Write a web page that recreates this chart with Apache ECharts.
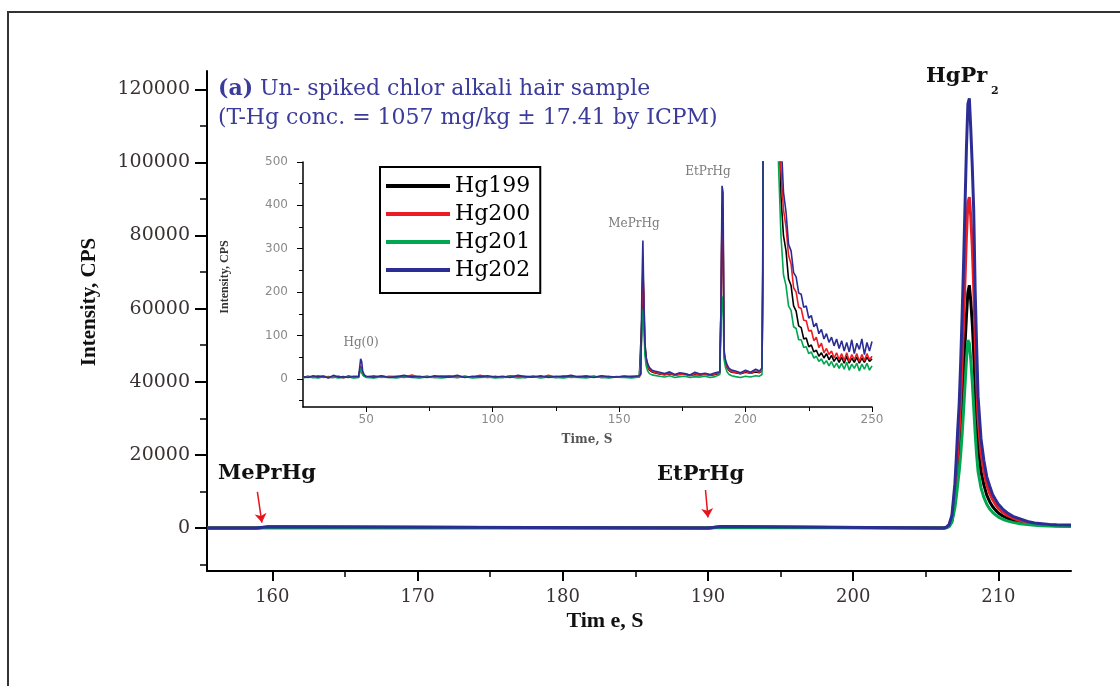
<!DOCTYPE html>
<html><head><meta charset="utf-8">
<script src="https://cdn.jsdelivr.net/npm/echarts@6/dist/echarts.min.js"></script>
<style>html,body{margin:0;padding:0;background:#fff}#c{width:1120px;height:686px}</style>
</head><body><div id="c"></div>
<script>
// ---------- Main chart data (time s, intensity CPS) ----------
const mainT = [155.5,158.9,159.0,159.7,159.8,190.0,190.1,190.9,191.0,206.2,
  206.4,206.6,206.8,207.0,207.1,207.2,207.3,207.4,207.5,207.6,
  207.7,207.8,207.9,208.0,208.1,208.2,208.3,208.4,208.5,208.6,
  208.8,209.0,209.2,209.4,209.6,209.8,210.0,210.3,210.6,211.0,
  211.5,212.0,212.5,213.0,213.5,214.0,215.0];
const mainHg199 = [0,0,250,250,0,0,300,300,0,0,
  100,500,2000,7000,11000,15500,20000,26000,33000,41000,
  50000,58000,64500,66400,62000,56000,48000,38000,29000,22500,
  15500,11800,9000,7200,5900,4900,4100,3300,2700,2100,
  1600,1250,1000,850,750,650,550];
const mainHg200 = [0,0,280,280,0,0,320,320,0,0,
  150,700,2800,9500,15000,21000,27000,35000,45000,56000,
  68000,80000,89000,90500,85000,77000,66000,52000,40000,30000,
  20500,15500,11800,9500,7800,6500,5400,4300,3500,2700,
  2000,1500,1200,1000,850,750,650];
const mainHg201 = [0,0,100,100,0,0,120,120,0,0,
  80,400,1600,5500,8500,12000,15500,20000,25500,32000,
  39000,46000,51400,50500,46000,40000,33000,26000,20000,15500,
  11000,8400,6500,5200,4300,3600,3000,2400,1950,1550,
  1200,950,780,650,560,500,420];
const mainHg202 = [0,0,350,350,0,0,400,400,0,0,
  200,900,3500,12000,19000,27000,34000,45000,58000,72000,
  88000,104000,116000,117500,109000,99000,87000,65000,50000,36000,
  24500,18500,14000,11500,9200,7800,6500,5200,4200,3200,
  2500,1800,1400,1200,1000,900,800];

// ---------- Inset data (time s, intensity CPS) ----------
const tIn = [25,27,29,31,33,35,37,39,41,43,45,47,
  47.8,48.2,48.6,49.2,
  50,53,56,59,62,65,68,71,74,77,80,83,86,89,92,95,98,101,104,107,110,113,116,119,122,125,128,131,134,137,140,143,146,149,152,155,158,
  158.6,159.0,159.4,159.8,160.2,160.7,161.3,162,163,164,
  166,168,170,172,174,176,178,180,182,184,186,188,
  189.8,190.3,190.7,191.1,191.5,192,192.7,193.5,194.5,
  196,198,200,202,204,
  205.5,206.5,206.9,207.3,
  212,213,
  214,215,216,217,218,219,220,221,222,223,224,225,226,227,228,229,230,231,232,233,234,235,236,237,238,239,240,241,242,243,244,245,246,247,248,249,250];
const inHg199 = [4,5,3,5,6,4,3,5,4,5,3,4,
  28,24,11,6,
  5,3,6,4,5,4,6,3,5,4,6,5,3,5,4,6,3,5,4,6,5,3,6,4,5,3,6,4,5,4,6,3,5,4,6,4,5,
  9,140,235,160,75,42,28,20,16,14,
  11,10,12,9,10,11,8,10,9,11,8,10,
  13,165,380,350,55,38,26,19,15,
  14,12,15,13,16,
  14,19,250,12000,
  2000,650,
  420,330,295,230,215,168,156,122,118,92,94,74,78,62,66,52,60,48,58,44,54,40,50,38,50,36,52,36,48,38,50,36,48,38,50,40,46];
const inHg200 = [3,6,4,7,3,5,4,6,2,7,4,6,
  30,26,12,7,
  4,7,3,6,5,3,9,4,6,3,5,7,4,6,3,8,4,5,3,7,4,6,5,3,8,4,6,3,5,7,4,6,3,5,4,6,5,
  10,150,248,200,83,45,30,22,17,15,
  12,9,13,8,11,10,7,12,9,10,8,11,
  14,170,400,380,60,40,28,20,16,
  15,12,17,13,18,
  15,20,300,16000,
  2500,750,
  480,390,350,285,265,210,200,165,162,135,134,110,112,88,96,72,82,60,70,56,64,48,60,44,58,42,60,40,56,44,58,40,56,42,58,44,52];
const inHg201 = [2,4,3,2,5,3,4,2,3,4,2,3,
  24,20,9,5,
  3,2,4,3,2,5,3,2,4,3,2,4,3,5,2,3,4,2,3,4,2,3,5,2,4,3,2,4,3,2,5,3,2,4,3,2,4,
  8,100,160,120,55,30,18,12,9,8,
  6,4,7,3,5,6,3,5,4,6,3,5,
  10,120,190,175,45,28,16,10,7,
  5,3,6,4,7,
  6,10,322,9000,
  1500,500,
  330,240,215,168,158,120,116,90,90,72,74,58,62,48,52,40,46,34,42,30,40,26,36,24,36,22,38,20,34,24,36,18,34,22,36,20,30];
const inHg202 = [5,3,7,4,6,2,8,4,5,3,6,5,
  46,40,18,9,
  6,4,7,3,5,8,4,6,3,7,5,4,8,3,6,5,7,4,6,3,8,5,4,7,3,6,5,8,4,6,3,7,5,4,6,5,7,
  12,207,319,180,83,50,35,26,20,18,
  15,12,16,10,14,12,9,15,11,13,10,14,
  16,175,445,430,67,45,32,24,20,
  18,14,20,15,22,
  18,25,380,20000,
  3000,900,
  560,430,385,310,295,245,235,198,195,165,168,140,146,120,128,104,114,92,104,84,96,76,92,70,88,64,84,62,90,58,82,68,92,56,84,64,86];

// ---------- Tick values ----------
const mainXTicks = [160,170,180,190,200,210];
const mainXMinor = [165,175,185,195,205];
const mainYTicks = [0,20000,40000,60000,80000,100000,120000];
const mainYMinor = [-10000,10000,30000,50000,70000,90000,110000];
const inXTicks = [50,100,150,200,250];
const inXMinor = [75,125,175,225];
const inYTicks = [0,100,200,300,400,500];
const inYMinor = [-50,50,150,250,350,450];

const names = ['Hg199','Hg200','Hg201','Hg202'];
const colors = ['#000000','#ed1c24','#00a650','#2b2d94'];
const mainVals = [mainHg199, mainHg200, mainHg201, mainHg202];
const inVals = [inHg199, inHg200, inHg201, inHg202];

function pairs(t, v){ return t.map((x,i)=>[x, v[i]]); }
const plain = v => String(v);

const serif = 'DejaVu Serif';

function axisBase(extra){
  return Object.assign({type:'value', splitLine:{show:false}, scale:false}, extra);
}

const xAxes = [
  axisBase({gridIndex:0, position:'bottom', min:155.5, max:215,
    axisLine:{show:true, onZero:false, lineStyle:{color:'#000', width:2}},
    axisTick:{show:true, customValues:mainXTicks, length:10, lineStyle:{color:'#000', width:2}},
    axisLabel:{show:true, customValues:mainXTicks, formatter:plain, margin:17, fontFamily:serif, fontSize:18, color:'#3a3232'}}),
  axisBase({gridIndex:0, position:'bottom', min:155.5, max:215,
    axisLine:{show:false, onZero:false},
    axisTick:{show:true, customValues:mainXMinor, length:6, lineStyle:{color:'#000', width:1.5}},
    axisLabel:{show:false}}),
  axisBase({gridIndex:1, position:'bottom', min:25, max:250,
    axisLine:{show:true, onZero:false, lineStyle:{color:'#000', width:1.5}},
    axisTick:{show:true, customValues:inXTicks, length:5, lineStyle:{color:'#000', width:1}},
    axisLabel:{show:true, customValues:inXTicks, formatter:plain, margin:7, fontFamily:'DejaVu Sans', fontSize:12, color:'#8a8a8a'}}),
  axisBase({gridIndex:1, position:'bottom', min:25, max:250,
    axisLine:{show:false, onZero:false},
    axisTick:{show:true, customValues:inXMinor, length:4, lineStyle:{color:'#000', width:1}},
    axisLabel:{show:false}})
];
const yAxes = [
  axisBase({gridIndex:0, position:'left', min:-11750, max:125000,
    axisLine:{show:true, onZero:false, lineStyle:{color:'#000', width:2}},
    axisTick:{show:true, customValues:mainYTicks, length:12, lineStyle:{color:'#000', width:2}},
    axisLabel:{show:true, customValues:mainYTicks, formatter:plain, margin:17, fontFamily:serif, fontSize:19, color:'#3a3232'}}),
  axisBase({gridIndex:0, position:'left', min:-11750, max:125000,
    axisLine:{show:false, onZero:false},
    axisTick:{show:true, customValues:mainYMinor, length:7, lineStyle:{color:'#000', width:1.5}},
    axisLabel:{show:false}}),
  axisBase({gridIndex:1, position:'left', min:-65, max:500,
    axisLine:{show:true, onZero:false, lineStyle:{color:'#000', width:1.5}},
    axisTick:{show:true, customValues:inYTicks, length:6, lineStyle:{color:'#000', width:1}},
    axisLabel:{show:true, customValues:inYTicks, formatter:plain, margin:15, fontFamily:'DejaVu Sans', fontSize:12, color:'#8a8a8a'}}),
  axisBase({gridIndex:1, position:'left', min:-65, max:500,
    axisLine:{show:false, onZero:false},
    axisTick:{show:true, customValues:inYMinor, length:4, lineStyle:{color:'#000', width:1}},
    axisLabel:{show:false}})
];

const series = [];
names.forEach((n,i)=>{
  const s = {name:n, type:'line', xAxisIndex:0, yAxisIndex:0, data:pairs(mainT, mainVals[i]),
    showSymbol:false, symbol:'none', clip:true, z:2+i,
    lineStyle:{color:colors[i], width:3}, itemStyle:{color:colors[i]}};
  if (n === 'Hg202') {
    s.markLine = {silent:true, symbol:['none','arrow'], symbolSize:9, animation:false, z:10,
      lineStyle:{color:'#e8141c', width:1.5, type:'solid'}, itemStyle:{color:'#e8141c'}, label:{show:false},
      data:[[{coord:[158.97, 9900]},{coord:[159.28, 1500]}],
            [{coord:[189.83, 10400]},{coord:[190.0, 2900]}]]};
  }
  series.push(s);
});
names.forEach((n,i)=>{
  series.push({name:n, type:'line', xAxisIndex:2, yAxisIndex:2, data:pairs(tIn, inVals[i]),
    showSymbol:false, symbol:'none', clip:true, z:2+i,
    lineStyle:{color:colors[i], width:1.6}, itemStyle:{color:colors[i]}});
});

function txt(x, y, text, font, fill, align, extra){
  return Object.assign({type:'text', x:x, y:y, silent:true, z:100,
    style:{text:text, font:font, fill:fill, align:align||'left', textAlign:align||'left',
      verticalAlign:'middle', textVerticalAlign:'middle'}}, extra||{});
}

const titleColor = '#3b3b9b';
const graphics = [
  {type:'rect', silent:true, z:-10, shape:{x:8, y:12, width:1300, height:900},
    style:{fill:'none', stroke:'#333', lineWidth:2}},
  {type:'text', x:218, y:89, silent:true, z:100,
    style:{text:'{b|(a)} Un- spiked chlor alkali hair sample', font:'22px "DejaVu Serif"', fill:titleColor,
      verticalAlign:'middle', textVerticalAlign:'middle',
      rich:{b:{fontFamily:serif, fontSize:22, fontWeight:'bold', fill:titleColor, color:titleColor}}}},
  txt(218, 118, '(T-Hg conc. = 1057 mg/kg \u00b1 17.41 by ICPM)', '22px "DejaVu Serif"', titleColor),
  txt(926, 77, 'HgPr', 'bold 21px "DejaVu Serif"', '#111'),
  txt(991, 91, '2', 'bold 11px "DejaVu Serif"', '#111'),
  txt(218, 474, 'MePrHg', 'bold 21px "DejaVu Serif"', '#111'),
  txt(657, 475, 'EtPrHg', 'bold 21px "DejaVu Serif"', '#111'),
  txt(605, 621, 'Tim e, S', 'bold 22px "Liberation Serif"', '#111', 'center'),
  txt(90, 302, 'Intensity, CPS', 'bold 21px "Liberation Serif"', '#111', 'center', {rotation:Math.PI/2}),
  txt(225, 277, 'Intensity, CPS', 'bold 12px "Liberation Serif"', '#333', 'center', {rotation:Math.PI/2}),
  txt(587, 440, 'Time, S', 'bold 12px "DejaVu Serif"', '#555', 'center'),
  txt(361, 343, 'Hg(0)', '12px "DejaVu Serif"', '#7a7a7a', 'center'),
  txt(634, 224, 'MePrHg', '12px "DejaVu Serif"', '#7a7a7a', 'center'),
  txt(708, 172, 'EtPrHg', '12px "DejaVu Serif"', '#7a7a7a', 'center')
];

const option = {
  animation:false,
  backgroundColor:'#fff',
  grid:[
    {left:207, top:71, width:864, height:500, outerBoundsMode:'none', containLabel:false},
    {left:303, top:162, width:569, height:245, outerBoundsMode:'none', containLabel:false}
  ],
  legend:{
    data:names, orient:'vertical', left:380, top:167, icon:'rect', itemWidth:64, itemHeight:4,
    itemGap:6, padding:[8,10,12,6], borderColor:'#000', borderWidth:2, backgroundColor:'#fff',
    borderRadius:0, z:20, selectedMode:false,
    textStyle:{fontFamily:serif, fontSize:22, color:'#000'}
  },
  xAxis:xAxes,
  yAxis:yAxes,
  series:series,
  graphic:graphics
};

const chart = echarts.init(document.getElementById('c'), null, {renderer:'canvas'});
chart.setOption(option);
</script></body></html>
